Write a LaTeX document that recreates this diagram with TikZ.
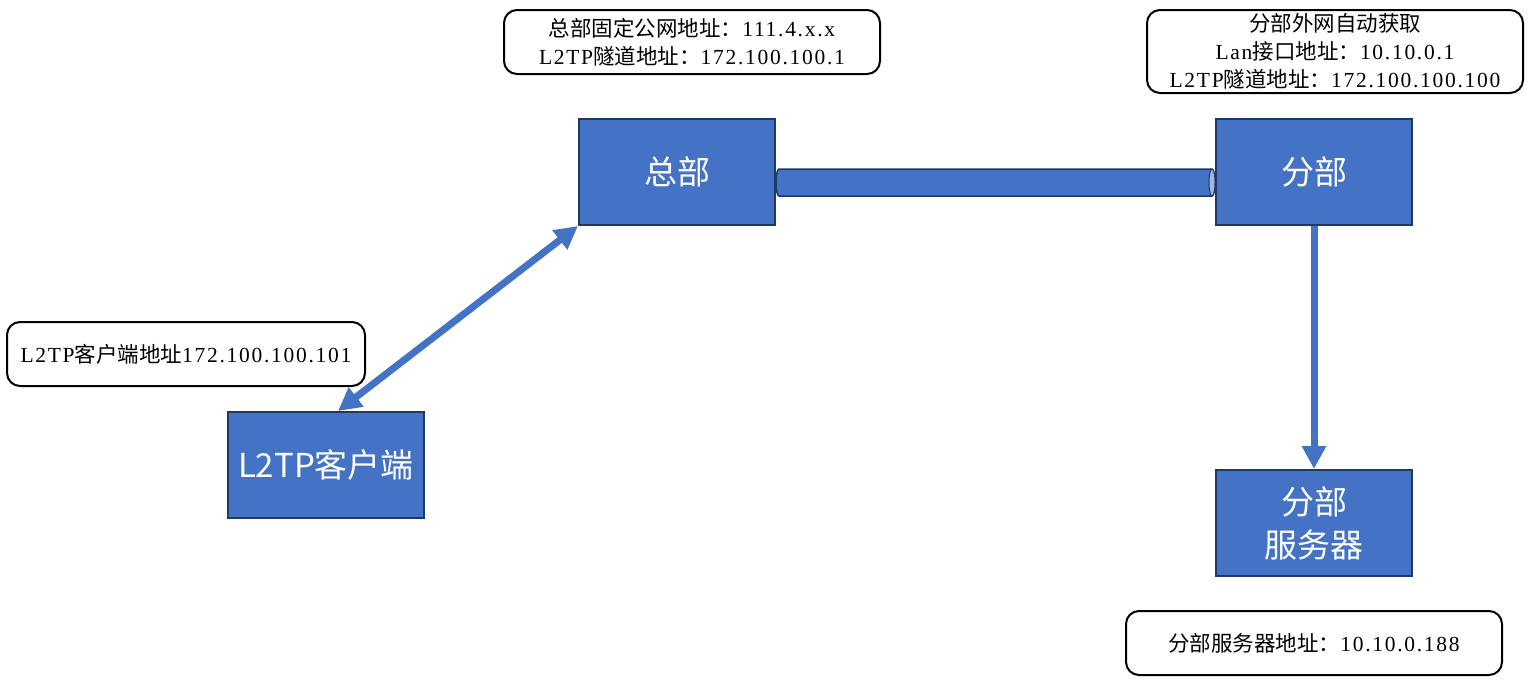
\documentclass[tikz,border=0pt]{standalone}
\usepackage{fontspec}
\setmainfont[LetterSpace=8]{Liberation Serif}
\newfontfamily\cjk{Noto Sans CJK SC}
\usetikzlibrary{calc,arrows.meta}
\definecolor{boxblue}{HTML}{4472C4}
\definecolor{boxline}{HTML}{1F3864}
\tikzset{
	unit/.style={draw=boxline, line width=2pt, fill=boxblue, text=white, minimum width=196pt, minimum height=106pt, inner sep=0pt, align=center, font=\cjk\fontsize{33}{43}\selectfont},
	tag/.style={draw=black, line width=2pt, rounded corners=13pt, minimum width=376pt, minimum height=64pt, inner sep=0pt, align=center, font=\fontsize{21.5}{28}\selectfont},
	link/.style={draw=boxblue, line width=7pt, -{Triangle[length=23pt,width=23pt]}},
}

\begin{document}
\begin{tikzpicture}[x=1pt,y=1pt]
		\useasboundingbox (0,0) rectangle (1530,-683);
		%%%%% START %%%%%
		
		\node[unit] (zb) at (677,-172) {总部};
		\node[unit] (fb) at (1314,-172) {分部};
		\node[unit] (fwq) at (1314,-523) {分部\\服务器};
		\node[unit] (kh) at (326,-465) {L2TP客户端};
		
		\node[tag] (zbtag) at (692,-42) {{\cjk 总部固定公网地址：}111.4.x.x\\L2TP{\cjk 隧道地址：}172.100.100.1};
		\node[tag, minimum height=83pt] (fbtag) at (1335,-51.5) {{\cjk 分部外网自动获取}\\Lan{\cjk 接口地址：}10.10.0.1\\L2TP{\cjk 隧道地址：}172.100.100.100};
		\node[tag, minimum width=358pt] (khtag) at (186,-354) {L2TP{\cjk 客户端地址}172.100.100.101};
		\node[tag] (fwqtag) at (1314,-643) {{\cjk 分部服务器地址：}10.10.0.188};
		
		% tunnel
		\path ($(zb.east)+(0,-10.5)$) coordinate (pl) ($(fb.west)+(0,-10.5)$) coordinate (pr);
		\draw[boxline, line width=1.5pt, fill=boxblue] ($(pl)+(3,13.5)$) -- ($(pr)+(-3,13.5)$) arc (90:-90:3 and 13.5) -- ($(pl)+(3,-13.5)$) arc (270:90:3 and 13.5) -- cycle;
		\draw[boxline, line width=1pt, fill=boxblue!50] ($(pr)+(-3,0)$) ellipse (3 and 13.5);
		
		\draw[link, {Triangle[length=23pt,width=23pt]}-{Triangle[length=23pt,width=23pt]}] ($(kh.north)+(12,0)$) -- (zb.south west);
		\draw[link] (fb.south) -- (fwq.north);
		
		%%%%% END %%%%%
	\end{tikzpicture}
\end{document}
